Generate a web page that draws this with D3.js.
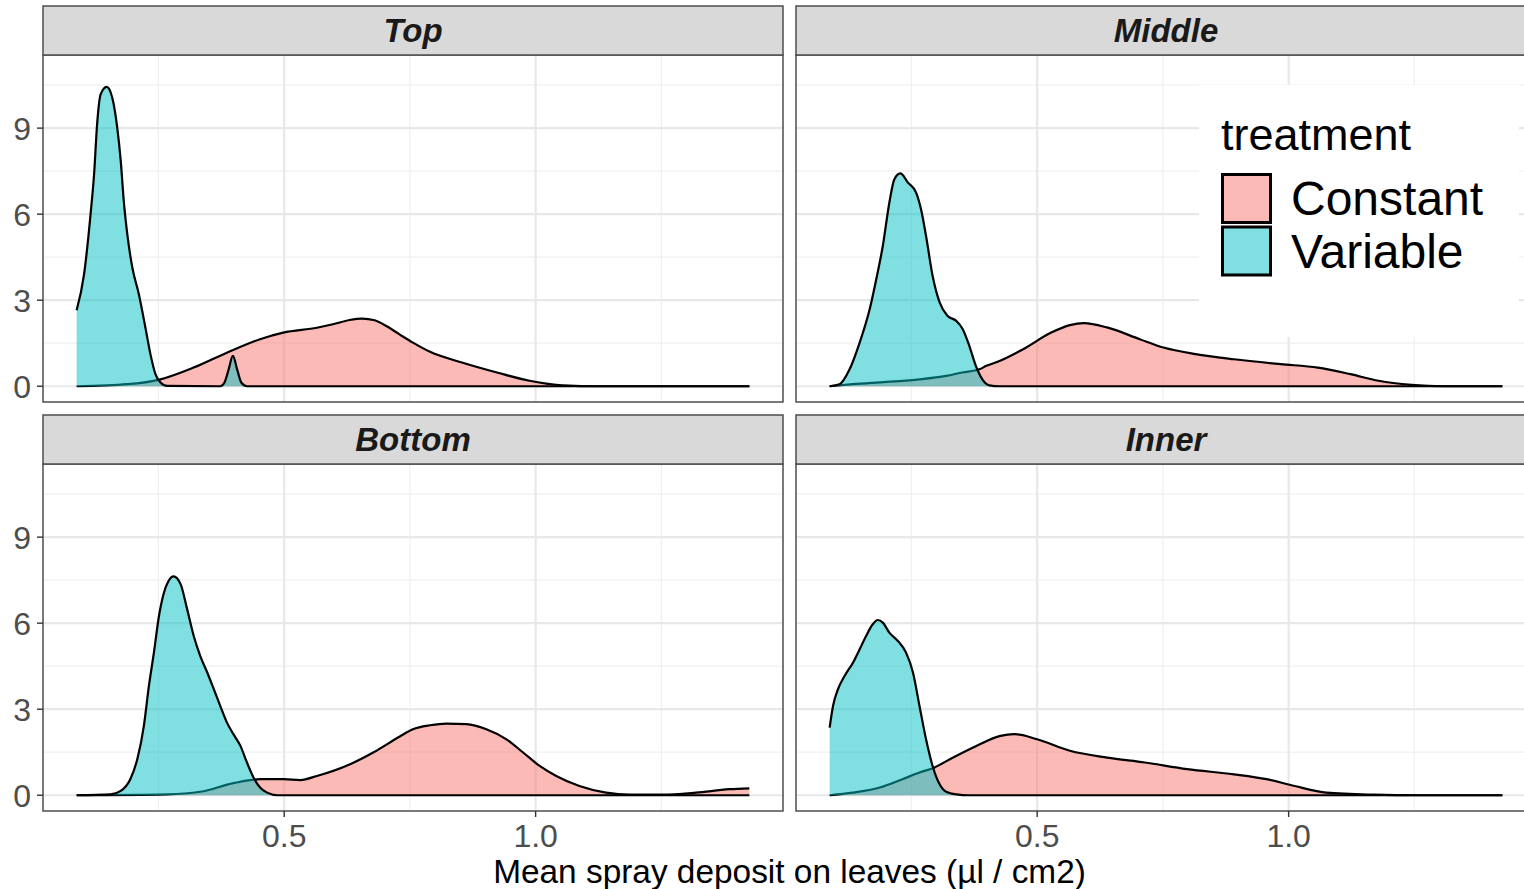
<!DOCTYPE html>
<html>
<head>
<meta charset="utf-8">
<script src="https://cdn.jsdelivr.net/npm/d3@7"></script>
<style>
  html, body { margin: 0; padding: 0; background: #ffffff; }
  svg { display: block; }
</style>
</head>
<body>
<div id="chart"></div>
<script>
// ---------------- DATA ----------------
const panels = ["Top", "Middle", "Bottom", "Inner"];
const treatments = ["Constant", "Variable"];
const xTickValues = [0.5, 1.0];
const xTickLabels = ["0.5", "1.0"];
const yTickValues = [0, 3, 6, 9];
const yTickLabels = ["0", "3", "6", "9"];
const xTitle = "Mean spray deposit on leaves (µl / cm2)";
const legendTitle = "treatment";

// Top
const topConstantX = [0.0873, 0.188, 0.254, 0.320, 0.386, 0.452, 0.498, 0.565, 0.597, 0.630, 0.655, 0.680, 0.705, 0.730, 0.756, 0.790, 0.855, 0.923, 0.988, 1.054, 1.127, 1.425];
const topConstantY = [0, 0.07, 0.24, 0.65, 1.17, 1.64, 1.87, 2.04, 2.16, 2.31, 2.36, 2.3, 2.08, 1.8, 1.52, 1.2, 0.82, 0.48, 0.19, 0.03, 0, 0];
const topVariableX = [0.0873, 0.102, 0.115, 0.122, 0.128, 0.135, 0.147, 0.158, 0.168, 0.175, 0.181, 0.188, 0.198, 0.211, 0.224, 0.234, 0.244, 0.254, 0.267, 0.373, 0.381, 0.389, 0.398, 0.407, 0.415, 0.426, 1.425];
const topVariableY = [2.65, 3.9, 6.0, 7.4, 9.14, 10.18, 10.44, 10.07, 9.02, 7.86, 6.46, 5.3, 4.14, 3.21, 2.05, 1.12, 0.42, 0.13, 0.01, 0, 0.12, 0.55, 1.06, 0.55, 0.12, 0, 0];

// Middle
const middleConstantX = [0.0873, 0.133, 0.200, 0.266, 0.319, 0.351, 0.385, 0.399, 0.425, 0.472, 0.528, 0.565, 0.593, 0.639, 0.704, 0.751, 0.815, 0.891, 0.984, 1.058, 1.123, 1.179, 1.244, 1.308, 1.425];
const middleConstantY = [0, 0.07, 0.15, 0.24, 0.36, 0.48, 0.59, 0.71, 0.88, 1.29, 1.87, 2.13, 2.2, 2.05, 1.64, 1.35, 1.12, 0.94, 0.77, 0.65, 0.42, 0.19, 0.05, 0, 0];
const middleVariableX = [0.0873, 0.107, 0.127, 0.147, 0.167, 0.180, 0.193, 0.206, 0.216, 0.228, 0.243, 0.259, 0.269, 0.279, 0.292, 0.306, 0.322, 0.339, 0.352, 0.365, 0.378, 0.391, 0.405, 0.425, 1.425];
const middleVariableY = [0, 0.07, 0.59, 1.52, 2.69, 3.73, 4.89, 6.4, 7.22, 7.42, 7.1, 6.76, 6.17, 5.24, 3.85, 2.92, 2.45, 2.28, 1.99, 1.41, 0.71, 0.24, 0.03, 0, 0];

// Bottom
const bottomConstantX = [0.0873, 0.267, 0.333, 0.399, 0.452, 0.499, 0.532, 0.565, 0.631, 0.677, 0.730, 0.756, 0.790, 0.823, 0.862, 0.902, 0.942, 0.975, 1.008, 1.041, 1.087, 1.140, 1.187, 1.253, 1.319, 1.385, 1.425];
const bottomConstantY = [0, 0.03, 0.12, 0.42, 0.56, 0.56, 0.53, 0.67, 1.08, 1.49, 2.05, 2.3, 2.44, 2.5, 2.48, 2.3, 1.95, 1.49, 1.02, 0.67, 0.32, 0.09, 0.02, 0.02, 0.09, 0.21, 0.24];
const bottomVariableX = [0.0873, 0.155, 0.175, 0.194, 0.208, 0.221, 0.231, 0.241, 0.251, 0.261, 0.270, 0.280, 0.294, 0.307, 0.320, 0.333, 0.347, 0.360, 0.373, 0.386, 0.399, 0.413, 0.426, 0.439, 0.452, 0.466, 0.486, 1.425];
const bottomVariableY = [0, 0.03, 0.15, 0.56, 1.26, 2.42, 3.81, 4.98, 6.25, 7.07, 7.47, 7.63, 7.36, 6.49, 5.56, 4.86, 4.28, 3.7, 3.11, 2.54, 2.13, 1.72, 1.14, 0.62, 0.27, 0.09, 0, 0];

// Inner
const innerConstantX = [0.0873, 0.133, 0.187, 0.232, 0.266, 0.296, 0.331, 0.379, 0.427, 0.454, 0.500, 0.565, 0.639, 0.714, 0.798, 0.891, 0.956, 1.012, 1.075, 1.169, 1.258, 1.425];
const innerConstantY = [0, 0.09, 0.27, 0.56, 0.79, 0.97, 1.3, 1.72, 2.07, 2.13, 1.95, 1.55, 1.31, 1.14, 0.91, 0.73, 0.56, 0.32, 0.09, 0.02, 0, 0];
const innerVariableX = [0.0873, 0.094, 0.104, 0.117, 0.134, 0.147, 0.160, 0.173, 0.183, 0.193, 0.206, 0.223, 0.239, 0.253, 0.266, 0.279, 0.292, 0.306, 0.319, 0.339, 0.365, 1.425];
const innerVariableY = [2.36, 3.11, 3.7, 4.16, 4.63, 5.09, 5.56, 5.96, 6.11, 6.02, 5.67, 5.38, 4.98, 4.28, 3.11, 1.95, 1.02, 0.38, 0.12, 0.03, 0, 0];

const seriesByPanel = {
  Top:    { Constant: [topConstantX, topConstantY],       Variable: [topVariableX, topVariableY] },
  Middle: { Constant: [middleConstantX, middleConstantY], Variable: [middleVariableX, middleVariableY] },
  Bottom: { Constant: [bottomConstantX, bottomConstantY], Variable: [bottomVariableX, bottomVariableY] },
  Inner:  { Constant: [innerConstantX, innerConstantY],   Variable: [innerVariableX, innerVariableY] }
};

// ---------------- LAYOUT ----------------
const W = 1524, H = 889;
const colX = [43, 796];
const panelW = 740;
const rows = [{ stripTop: 6, panelTop: 55, panelBottom: 402 }, { stripTop: 415, panelTop: 464, panelBottom: 811 }];
const colors = { Constant: "#F8766D", Variable: "#00BFC4" };
const FONT = "'Liberation Sans', Arial, Helvetica, sans-serif";

const svg = d3.select("#chart").append("svg").attr("width", W).attr("height", H)
  .style("font-family", FONT);

const x = d3.scaleLinear().domain([0.0204, 1.4919]).range([0, panelW]);

panels.forEach((p, i) => {
  const col = i % 2, row = Math.floor(i / 2);
  const r = rows[row];
  const ph = r.panelBottom - r.panelTop;
  const y = d3.scaleLinear().domain([-0.55, 11.55]).range([ph, 0]);
  const g = svg.append("g").attr("transform", `translate(${colX[col]},${r.panelTop})`);

  g.append("rect").attr("width", panelW).attr("height", ph).attr("fill", "#fff");

  // grid
  const xMinor = [0.25, 0.75, 1.25], yMinor = [1.5, 4.5, 7.5, 10.5];
  g.selectAll(".ymin").data(yMinor).join("line")
    .attr("x1", 0).attr("x2", panelW).attr("y1", d => y(d)).attr("y2", d => y(d))
    .attr("stroke", "#f0f0f0").attr("stroke-width", 1.3);
  g.selectAll(".xmin").data(xMinor).join("line")
    .attr("y1", 0).attr("y2", ph).attr("x1", d => x(d)).attr("x2", d => x(d))
    .attr("stroke", "#f0f0f0").attr("stroke-width", 1.3);
  g.selectAll(".ymaj").data(yTickValues).join("line")
    .attr("x1", 0).attr("x2", panelW).attr("y1", d => y(d)).attr("y2", d => y(d))
    .attr("stroke", "#e8e8e8").attr("stroke-width", 2.2);
  g.selectAll(".xmaj").data(xTickValues).join("line")
    .attr("y1", 0).attr("y2", ph).attr("x1", d => x(d)).attr("x2", d => x(d))
    .attr("stroke", "#e8e8e8").attr("stroke-width", 2.2);

  const area = d3.area().x(d => x(d[0])).y0(y(0)).y1(d => y(d[1])).curve(d3.curveMonotoneX);
  const line = d3.line().x(d => x(d[0])).y(d => y(d[1])).curve(d3.curveMonotoneX);

  treatments.forEach(t => {
    const [xs, ys] = seriesByPanel[p][t];
    const pts = xs.map((v, k) => [v, ys[k]]);
    g.append("path").attr("d", area(pts)).attr("fill", colors[t]).attr("fill-opacity", 0.5);
    g.append("path").attr("d", line(pts)).attr("fill", "none").attr("stroke", "#000").attr("stroke-width", 2.2)
      .attr("stroke-linejoin", "round");
  });

  g.append("rect").attr("width", panelW).attr("height", ph).attr("fill", "none")
    .attr("stroke", "#4d4d4d").attr("stroke-width", 1.5);

  // strip
  const sg = svg.append("g").attr("transform", `translate(${colX[col]},${r.stripTop})`);
  const sh = r.panelTop - r.stripTop;
  sg.append("rect").attr("width", panelW).attr("height", sh).attr("fill", "#d9d9d9")
    .attr("stroke", "#4d4d4d").attr("stroke-width", 1.5);
  sg.append("text").attr("x", panelW / 2).attr("y", sh / 2).attr("dy", "0.36em")
    .attr("text-anchor", "middle").attr("font-size", 33).attr("font-weight", "bold")
    .attr("font-style", "italic").attr("fill", "#1a1a1a").text(p);

  // y axis
  if (col === 0) {
    const yg = svg.append("g").attr("transform", `translate(${colX[col]},${r.panelTop})`);
    yg.selectAll(".yt").data(yTickValues).join("line")
      .attr("x1", -6).attr("x2", 0).attr("y1", d => y(d)).attr("y2", d => y(d))
      .attr("stroke", "#333").attr("stroke-width", 1.4);
    yg.selectAll(".yl").data(yTickValues).join("text")
      .attr("x", -12).attr("y", d => y(d)).attr("dy", "0.36em")
      .attr("text-anchor", "end").attr("font-size", 32).attr("fill", "#4d4d4d")
      .text((d, k) => yTickLabels[k]);
  }
  // x axis
  if (row === 1) {
    const xg = svg.append("g").attr("transform", `translate(${colX[col]},${r.panelBottom})`);
    xg.selectAll(".xt").data(xTickValues).join("line")
      .attr("x1", d => x(d)).attr("x2", d => x(d)).attr("y1", 0).attr("y2", 6)
      .attr("stroke", "#333").attr("stroke-width", 1.4);
    xg.selectAll(".xl").data(xTickValues).join("text")
      .attr("x", d => x(d)).attr("y", 36)
      .attr("text-anchor", "middle").attr("font-size", 32).attr("fill", "#4d4d4d")
      .text((d, k) => xTickLabels[k]);
  }
});

// axis title
svg.append("text").attr("x", (colX[0] + colX[1] + panelW) / 2).attr("y", 883)
  .attr("text-anchor", "middle").attr("font-size", 33.4).attr("fill", "#000").text(xTitle);

// legend
const lg = svg.append("g").attr("transform", "translate(1199,85)");
lg.append("rect").attr("width", 320).attr("height", 252).attr("fill", "#fff");
lg.append("text").attr("x", 22).attr("y", 65).attr("font-size", 45).attr("fill", "#000").text(legendTitle);
treatments.forEach((t, k) => {
  lg.append("rect").attr("x", 23.5).attr("y", 89.5 + k * 52.5).attr("width", 48).attr("height", 48)
    .attr("fill", colors[t]).attr("fill-opacity", 0.5).attr("stroke", "#000").attr("stroke-width", 3);
  lg.append("text").attr("x", 92).attr("y", 130 + k * 52.5).attr("font-size", 48).attr("fill", "#000").text(t);
});
</script>
</body>
</html>
